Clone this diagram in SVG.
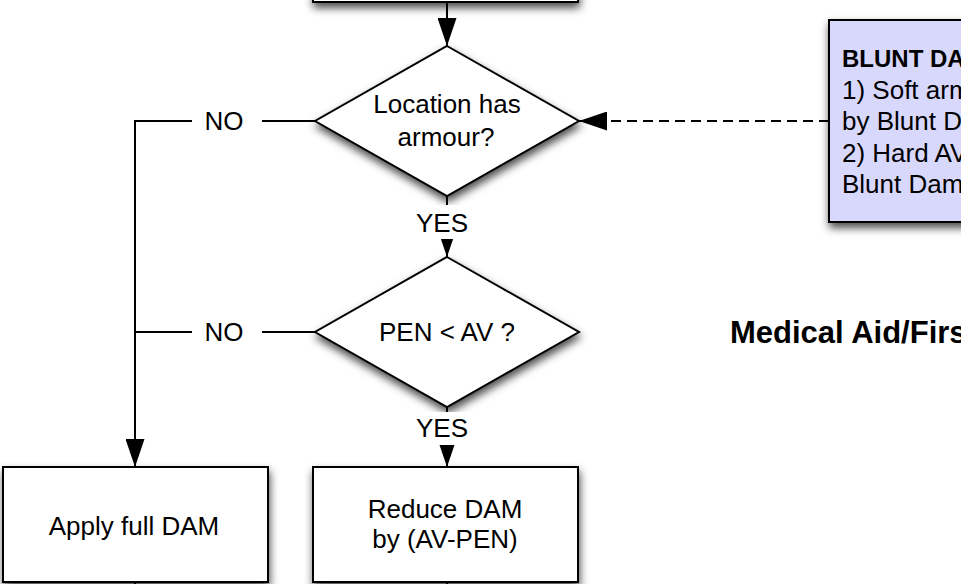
<svg xmlns="http://www.w3.org/2000/svg" width="961" height="584" viewBox="0 0 961 584">
  <defs>
    <filter id="shadow" x="-20%" y="-20%" width="140%" height="150%">
      <feDropShadow dx="1" dy="5" stdDeviation="4" flood-color="#000" flood-opacity="0.7"/>
    </filter>
    <marker id="arrow" viewBox="0 0 28 19" markerWidth="28" markerHeight="19" markerUnits="userSpaceOnUse" refX="28" refY="9.5" orient="auto">
      <path d="M0,0 L28,9.5 L0,19 Z" fill="#000"/>
    </marker>
  </defs>
  <style>
    .shape { fill: #fff; stroke: #000; stroke-width: 2; filter: url(#shadow); }
    .note { fill: #d8d8fc; stroke: #000; stroke-width: 2; filter: url(#shadow); }
    .conn { fill: none; stroke: #000; stroke-width: 2; }
    .dash { stroke-dasharray: 10 6; }
    .lbl { fill: #fff; stroke: none; }
    text { font-family: "Liberation Sans", Arial, Helvetica, sans-serif; font-size: 26px; fill: #000; }
    .c { text-anchor: middle; }
    .b { font-weight: bold; }
  </style>
  <rect width="961" height="584" fill="#fff"/>

  <g id="nodes">
    <g id="top-box">
      <rect class="shape" x="313" y="-113" width="265" height="115"/>
    </g>
    <g id="d-armour">
      <polygon class="shape" points="447,46 579,121 447,196 315,121"/>
      <text class="c" x="447" y="113">Location has</text>
      <text class="c" x="446" y="146">armour?</text>
    </g>
    <g id="d-pen">
      <polygon class="shape" points="447,257 579,332 447,407 315,332"/>
      <text class="c" x="447" y="341">PEN &lt; AV ?</text>
    </g>
    <g id="apply-full">
      <rect class="shape" x="3" y="467" width="265" height="115"/>
      <text class="c" x="134" y="535">Apply full DAM</text>
    </g>
    <g id="reduce-dam">
      <rect class="shape" x="313" y="467" width="265" height="115"/>
      <text class="c" x="445" y="518">Reduce DAM</text>
      <text class="c" x="445" y="548">by (AV-PEN)</text>
    </g>
    <g id="blunt-note">
      <rect class="note" x="829" y="20" width="200" height="202"/>
      <text class="b" x="842" y="67" style="font-size:24px">BLUNT DA</text>
      <text x="842" y="99">1) Soft arm</text>
      <text x="842" y="130">by Blunt D</text>
      <text x="842" y="162">2) Hard AV</text>
      <text x="842" y="193">Blunt Dam</text>
    </g>
    <g id="medical-title">
      <text class="b" x="730" y="343" style="font-size:31px">Medical Aid/Firs</text>
    </g>
  </g>

  <g id="connectors">
    <line class="conn" x1="447" y1="2" x2="447" y2="46" marker-end="url(#arrow)"/>
    <polyline class="conn" points="315,121 135,121 135,467" marker-end="url(#arrow)"/>
    <line class="conn" x1="315" y1="332" x2="135" y2="332"/>
    <line class="conn" x1="447" y1="196" x2="447" y2="257" marker-end="url(#arrow)"/>
    <line class="conn" x1="447" y1="407" x2="447" y2="467" marker-end="url(#arrow)"/>
    <line class="conn dash" x1="829" y1="121" x2="579" y2="121" marker-end="url(#arrow)"/>
    <line class="conn" x1="135" y1="582" x2="135" y2="590"/>
    <line class="conn" x1="447" y1="582" x2="447" y2="590"/>

    <rect class="lbl" x="192" y="108" width="70" height="26"/>
    <text class="c" x="224" y="130">NO</text>
    <rect class="lbl" x="192" y="319" width="70" height="26"/>
    <text class="c" x="224" y="341">NO</text>
    <rect class="lbl" x="404" y="205" width="86" height="34"/>
    <text class="c" x="442" y="232">YES</text>
    <rect class="lbl" x="403" y="412" width="86" height="33"/>
    <text class="c" x="442" y="437">YES</text>
  </g>
</svg>
